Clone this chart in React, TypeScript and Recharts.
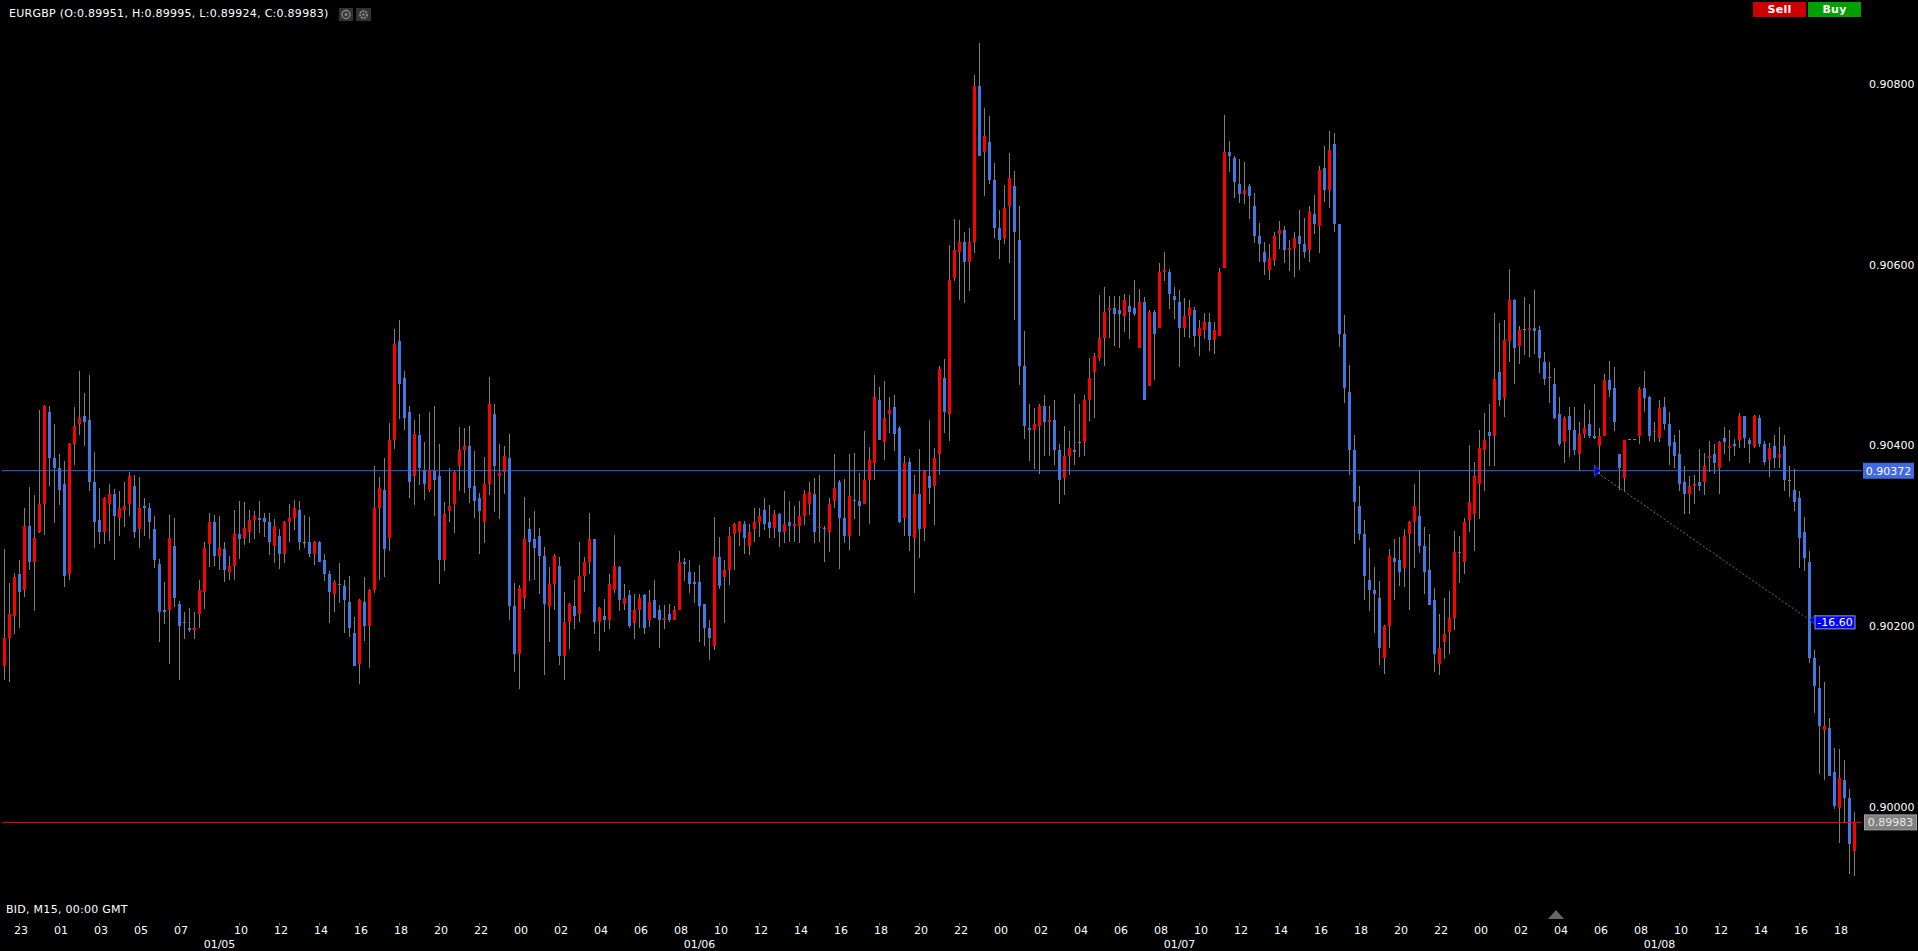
import { ComposedChart, Bar, XAxis, YAxis, ReferenceLine, ReferenceDot } from 'recharts'

// EURGBP M15 candles, prices in points (1/100000)
const opens = [
  90156,90187,90211,90258,90240,90311,90271,90304,90335,90437,90386,90375,90357,90258,90402,90424,90433,90428,90360,90318,
  90304,90335,90346,90320,90329,90335,90355,90307,90333,90331,90307,90269,90218,90218,90289,90225,90205,90198,90196,90214,
  90238,90291,90315,90278,90285,90260,90267,90302,90298,90304,90318,90320,90320,90315,90289,90300,90280,90315,90320,90329,
  90293,90293,90280,90293,90273,90258,90236,90247,90245,90227,90192,90158,90227,90200,90240,90331,90351,90298,90406,90515,
  90475,90437,90366,90411,90373,90351,90372,90366,90273,90327,90335,90377,90395,90399,90355,90342,90315,90357,90435,90366,
  90371,90386,90222,90169,90231,90307,90296,90300,90278,90222,90247,90267,90167,90205,90222,90214,90256,90271,90296,90205,
  90211,90207,90240,90265,90225,90234,90203,90218,90234,90207,90229,90218,90207,90214,90207,90218,90271,90260,90249,90249,
  90225,90198,90178,90276,90254,90262,90302,90304,90313,90289,90307,90315,90329,90315,90309,90324,90304,90315,90311,90311,
  90322,90335,90346,90309,90309,90304,90338,90360,90320,90300,90340,90338,90335,90362,90380,90450,90404,90435,90442,90419,
  90320,90382,90298,90346,90309,90366,90355,90391,90475,90435,90585,90614,90625,90603,90625,90798,90725,90736,90694,90640,
  90629,90665,90687,90627,90488,90419,90417,90421,90444,90426,90428,90395,90364,90388,90395,90404,90404,90450,90481,90497,
  90519,90550,90552,90550,90543,90554,90552,90508,90559,90466,90548,90530,90592,90592,90565,90559,90530,90543,90550,90521,
  90528,90536,90517,90521,90596,90725,90718,90689,90678,90687,90665,90632,90614,90594,90605,90634,90638,90616,90618,90632,
  90623,90616,90656,90643,90707,90683,90733,90645,90523,90459,90395,90333,90302,90251,90240,90231,90165,90200,90275,90273,
  90264,90302,90315,90322,90289,90262,90229,90158,90183,90194,90209,90282,90271,90317,90324,90357,90395,90415,90410,90481,
  90452,90515,90561,90510,90529,90528,90530,90528,90492,90476,90468,90435,90404,90432,90417,90390,90413,90424,90410,90399,
  90410,90472,90463,90390,90364,90407,90407,90410,90463,90454,90415,90408,90443,90424,90404,90390,90360,90346,90355,90360,
  90360,90386,90390,90375,90408,90397,90402,90406,90432,90406,90399,90430,90402,90384,90399,90386,90399,90362,90351,90342,
  90304,90271,90165,90132,90085,90087,90039,89999,90030,90010,89951,
]
const highs = [
  90285,90248,90259,90273,90331,90354,90345,90439,90445,90444,90424,90390,90383,90403,90442,90482,90458,90478,90393,90353,
  90343,90357,90352,90350,90359,90371,90367,90365,90342,90336,90322,90274,90249,90323,90320,90228,90216,90220,90216,90251,
  90293,90325,90323,90322,90293,90278,90328,90339,90337,90329,90327,90339,90325,90325,90319,90308,90316,90335,90340,90339,
  90323,90321,90294,90294,90280,90261,90251,90270,90251,90256,90210,90230,90254,90241,90377,90365,90386,90425,90529,90539,
  90482,90444,90428,90435,90404,90437,90444,90401,90337,90375,90372,90420,90419,90422,90394,90347,90387,90476,90446,90402,
  90399,90413,90248,90246,90343,90320,90327,90309,90288,90266,90280,90276,90238,90226,90251,90293,90276,90325,90297,90221,
  90230,90258,90301,90267,90247,90240,90236,90236,90236,90240,90251,90224,90224,90225,90222,90283,90275,90273,90260,90268,
  90225,90207,90321,90299,90273,90310,90314,90316,90316,90313,90331,90331,90342,90334,90328,90325,90350,90338,90333,90339,
  90351,90360,90364,90367,90311,90342,90391,90362,90363,90391,90392,90369,90416,90398,90478,90465,90471,90454,90456,90422,
  90388,90386,90367,90396,90373,90428,90397,90488,90496,90622,90650,90649,90636,90640,90810,90845,90773,90764,90712,90660,
  90688,90723,90704,90665,90527,90446,90441,90446,90456,90444,90450,90401,90421,90416,90457,90446,90456,90497,90502,90566,
  90575,90565,90565,90565,90567,90566,90583,90573,90564,90550,90550,90602,90614,90595,90575,90572,90563,90561,90553,90539,
  90546,90546,90536,90596,90765,90737,90720,90717,90713,90689,90679,90646,90625,90623,90636,90648,90643,90627,90636,90660,
  90651,90665,90677,90709,90731,90748,90746,90645,90544,90489,90411,90355,90318,90286,90266,90250,90201,90285,90297,90299,
  90308,90316,90357,90372,90310,90302,90242,90214,90231,90239,90305,90300,90320,90400,90382,90417,90436,90446,90546,90535,
  90539,90595,90562,90532,90564,90556,90572,90532,90503,90492,90486,90453,90432,90443,90443,90426,90446,90439,90468,90419,
  90479,90493,90487,90391,90406,90407,90407,90465,90482,90455,90426,90450,90453,90437,90411,90417,90377,90366,90367,90396,
  90392,90405,90402,90405,90420,90417,90407,90436,90433,90408,90434,90434,90405,90403,90411,90420,90412,90377,90374,90350,
  90321,90283,90174,90156,90138,90098,90065,90064,90052,90020,89995,
]
const lows = [
  90140,90138,90192,90198,90233,90262,90217,90303,90301,90356,90315,90334,90244,90251,90378,90411,90399,90350,90287,90291,
  90291,90294,90273,90300,90309,90322,90297,90286,90300,90296,90264,90182,90203,90158,90222,90141,90186,90193,90186,90198,
  90219,90265,90267,90262,90249,90252,90251,90275,90289,90293,90296,90304,90298,90279,90270,90264,90270,90293,90307,90285,
  90286,90277,90267,90271,90250,90203,90216,90226,90192,90188,90156,90136,90183,90154,90236,90251,90254,90283,90396,90429,
  90417,90342,90334,90356,90340,90349,90322,90246,90261,90315,90303,90349,90347,90337,90320,90280,90292,90346,90327,90319,
  90346,90207,90150,90131,90219,90250,90251,90236,90146,90183,90218,90156,90141,90175,90197,90205,90237,90257,90192,90172,
  90194,90197,90237,90217,90218,90198,90186,90198,90192,90199,90209,90176,90198,90205,90207,90218,90250,90236,90226,90183,
  90179,90163,90174,90241,90203,90246,90262,90288,90279,90279,90293,90299,90307,90298,90297,90287,90293,90293,90293,90293,
  90312,90323,90292,90293,90271,90282,90331,90264,90292,90285,90319,90299,90335,90313,90362,90406,90384,90414,90394,90315,
  90299,90283,90236,90275,90294,90335,90312,90367,90414,90405,90581,90561,90558,90570,90613,90720,90676,90689,90629,90606,
  90623,90601,90539,90467,90407,90383,90373,90369,90388,90389,90378,90335,90345,90367,90379,90387,90388,90427,90430,90493,
  90488,90518,90510,90508,90525,90517,90543,90508,90450,90466,90473,90530,90582,90551,90540,90487,90520,90519,90509,90499,
  90517,90504,90501,90521,90596,90703,90673,90668,90667,90650,90624,90603,90588,90583,90598,90617,90602,90593,90586,90594,
  90607,90603,90634,90613,90669,90663,90636,90509,90447,90367,90290,90295,90230,90216,90193,90157,90147,90175,90229,90245,
  90244,90218,90264,90281,90236,90223,90149,90146,90163,90169,90195,90248,90258,90304,90284,90319,90350,90377,90377,90443,
  90432,90492,90468,90490,90500,90497,90501,90480,90467,90447,90430,90399,90380,90388,90390,90372,90408,90408,90407,90368,
  90410,90453,90416,90351,90350,90406,90406,90402,90437,90405,90404,90404,90416,90378,90375,90350,90324,90324,90335,90349,
  90345,90371,90369,90346,90390,90383,90388,90397,90398,90380,90398,90399,90378,90365,90375,90375,90350,90343,90327,90265,
  90261,90159,90104,90037,90030,90034,89997,89960,89982,89926,89924,
]
const closes = [
  90187,90214,90254,90238,90311,90271,90298,90335,90444,90386,90375,90351,90256,90402,90422,90430,90426,90360,90315,90304,
  90342,90346,90322,90331,90333,90366,90304,90331,90331,90315,90273,90216,90216,90298,90231,90200,90204,90196,90198,90240,
  90287,90315,90278,90287,90262,90267,90302,90296,90309,90318,90322,90318,90315,90293,90311,90280,90315,90320,90331,90293,
  90293,90280,90293,90271,90258,90238,90249,90246,90229,90198,90156,90229,90200,90240,90331,90353,90285,90406,90512,90468,
  90430,90360,90413,90375,90357,90372,90362,90273,90324,90333,90371,90395,90399,90353,90338,90327,90357,90446,90377,90369,
  90388,90222,90169,90242,90296,90293,90287,90278,90225,90247,90278,90167,90205,90225,90211,90256,90271,90296,90205,90220,
  90207,90247,90267,90229,90231,90200,90218,90231,90198,90227,90209,90207,90209,90207,90218,90271,90269,90247,90247,90222,
  90198,90187,90276,90245,90262,90300,90313,90315,90298,90304,90315,90322,90313,90309,90324,90304,90313,90311,90313,90322,
  90346,90349,90304,90310,90307,90335,90353,90320,90300,90344,90338,90333,90362,90384,90453,90406,90430,90439,90413,90315,
  90380,90300,90346,90307,90372,90353,90386,90484,90437,90583,90616,90625,90603,90625,90798,90720,90742,90694,90640,90627,
  90663,90696,90636,90488,90421,90417,90424,90444,90426,90428,90395,90362,90388,90397,90393,90404,90450,90475,90499,90519,
  90548,90552,90545,90545,90561,90548,90545,90559,90450,90548,90523,90592,90594,90567,90561,90530,90543,90552,90521,90530,
  90536,90517,90528,90592,90725,90720,90691,90678,90683,90676,90632,90623,90603,90607,90632,90638,90616,90618,90629,90623,
  90614,90658,90645,90705,90683,90727,90645,90523,90463,90395,90337,90302,90255,90240,90236,90176,90200,90278,90271,90260,
  90300,90315,90333,90289,90260,90223,90169,90176,90191,90209,90282,90281,90315,90337,90366,90397,90406,90410,90474,90450,
  90517,90561,90508,90528,90529,90530,90526,90497,90474,90476,90430,90402,90430,90417,90395,90413,90419,90410,90408,90410,
  90472,90461,90426,90375,90406,90407,90407,90462,90452,90410,90416,90441,90424,90399,90388,90357,90346,90355,90357,90355,
  90377,90388,90380,90404,90404,90399,90399,90432,90408,90402,90432,90402,90382,90397,90386,90390,90362,90362,90337,90298,
  90275,90165,90134,90090,90090,90034,90001,90032,90010,89959,89983,
]

const hourTickSlots = [
  3,11,19,27,35,47,55,63,71,79,87,95,103,111,119,127,135,143,151,159,167,175,183,191,
  199,207,215,223,231,239,247,255,263,271,279,287,295,303,311,319,327,335,343,351,359,367,
]
const hourTickLabels = [
  '23','01','03','05','07','10','12','14','16','18','20','22',
  '00','02','04','06','08','10','12','14','16','18','20','22',
  '00','02','04','06','08','10','12','14','16','18','20','22',
  '00','02','04','06','08','10','12','14','16','18',
]
const dateTickSlots = [43, 139, 235, 331]
const dateTickLabels = ['01/05', '01/06', '01/07', '01/08']
const priceTicks = [0.9, 0.902, 0.904, 0.906, 0.908]

const ENTRY_PRICE = 0.90372
const LAST_PRICE = 0.89983
const TRADE_START_SLOT = 318
const TRADE_END_SLOT = 361
const TRADE_END_PRICE = 0.90207
const TRADE_PIPS = '-16.60'

const SLOT_COUNT = 372
const slots = Array.from({ length: SLOT_COUNT }, (_, i) =>
  i < opens.length
    ? {
        slot: i,
        open: opens[i] / 1e5,
        close: closes[i] / 1e5,
        range: [lows[i] / 1e5, highs[i] / 1e5],
      }
    : { slot: i },
)

const FONT = '"DejaVu Sans", sans-serif'
const TEXT = '#ffffff'
const UP = '#ff0000'
const DOWN = '#4079e6'
const WICK = '#7f7f7f'

function Candle(props: any) {
  const { x, y, width, height, payload } = props
  if (payload.open === undefined) return null
  const [low, high] = payload.range
  const perPrice = high > low ? height / (high - low) : 0
  const top = Math.round(y + (high - Math.max(payload.open, payload.close)) * perPrice)
  const bottom = Math.round(y + (high - Math.min(payload.open, payload.close)) * perPrice)
  const fill = payload.open === payload.close ? WICK : payload.close > payload.open ? UP : DOWN
  const mid = Math.floor(x + width / 2)
  return (
    <g shapeRendering="crispEdges">
      <rect x={mid} y={Math.round(y)} width={1} height={Math.max(1, Math.round(height))} fill={WICK} />
      <rect x={mid - 1} y={top} width={3} height={Math.max(1, bottom - top)} fill={fill} />
    </g>
  )
}

function HourTick({ x, y, payload }: any) {
  const label = hourTickLabels[hourTickSlots.indexOf(payload.value)]
  return (
    <g>
      <rect x={x - 0.5} y={y - 0.5} width={1} height={2} fill="#777" shapeRendering="crispEdges" />
      <text x={x + 1.5} y={y + 10.5} textAnchor="middle" fontFamily={FONT} fontSize={11} fill={TEXT}>
        {label}
      </text>
    </g>
  )
}

function DateTick({ x, y, payload }: any) {
  return (
    <text x={x} y={y + 8.5} textAnchor="middle" fontFamily={FONT} fontSize={11} fill={TEXT}>
      {dateTickLabels[dateTickSlots.indexOf(payload.value)]}
    </text>
  )
}

function PriceTag({ viewBox, text, fill, stroke, color, dx, w, up }: any) {
  const yMid = viewBox.y
  const right = viewBox.x + viewBox.width
  return (
    <g>
      <rect x={right + dx} y={yMid - up} width={w} height={up === 7.5 ? 15 : 16} fill={fill} stroke={stroke} />
      <text x={right + dx + w / 2} y={yMid + 4} textAnchor="middle" fontFamily={FONT} fontSize={11} fill={color}>
        {text}
      </text>
    </g>
  )
}

function EntryMarker({ cx, cy }: any) {
  return <path d={`M${cx},${cy - 5.5} L${cx + 6},${cy} L${cx},${cy + 5.5} Z`} fill="#0000e0" stroke="#3a3ab0" />
}

function ExitMarker({ cx, cy }: any) {
  return (
    <g>
      <path d={`M${cx + 6},${cy - 5} L${cx},${cy} L${cx + 6},${cy + 5} Z`} fill="#0000c8" stroke="#3a3ab0" />
      <rect x={cx + 5.5} y={cy - 4} width={40} height={13} fill="#0000ff" stroke="#9a9ac8" />
      <text x={cx + 25.5} y={cy + 6.5} textAnchor="middle" fontFamily={FONT} fontSize={11} fill="#fff">
        {TRADE_PIPS}
      </text>
    </g>
  )
}

const overlayText = {
  position: 'absolute' as const,
  fontFamily: FONT,
  fontSize: 11,
  letterSpacing: 0.27,
  color: TEXT,
  whiteSpace: 'nowrap' as const,
  lineHeight: '14px',
}

export default function App() {
  return (
    <div style={{ position: 'absolute', left: 0, top: 0, width: 1918, height: 951, background: '#000', overflow: 'hidden' }}>
      <ComposedChart
        width={1918}
        height={951}
        data={slots}
        barCategoryGap={0}
        margin={{ top: 29.56, right: 0, bottom: 0, left: 2 }}
      >
        <XAxis
          dataKey="slot"
          type="category"
          ticks={hourTickSlots}
          interval={0}
          height={16}
          axisLine={false}
          tickLine={false}
          tick={<HourTick />}
        />
        <XAxis
          xAxisId="dates"
          dataKey="slot"
          type="category"
          ticks={dateTickSlots}
          interval={0}
          height={19.52}
          axisLine={false}
          tickLine={false}
          tick={<DateTick />}
        />
        <YAxis
          orientation="right"
          width={56}
          domain={[0.8988, 0.9086]}
          allowDataOverflow
          ticks={priceTicks}
          interval={0}
          axisLine={false}
          tickLine={false}
          tickSize={0}
          tickMargin={7}
          tickFormatter={(v: number) => v.toFixed(5)}
          tick={{ fill: TEXT, fontFamily: FONT, fontSize: 11 }}
        />
        <Bar dataKey="range" shape={<Candle />} isAnimationActive={false} />
        <ReferenceLine
          y={ENTRY_PRICE}
          stroke="#3a66e8"
          strokeWidth={1}
          label={<PriceTag text={ENTRY_PRICE.toFixed(5)} fill="#4169e1" stroke="#4169e1" color="#fff" dx={1.5} w={50} up={7.5} />}
        />
        <ReferenceLine
          y={LAST_PRICE}
          stroke="#ff0000"
          strokeWidth={1}
          label={<PriceTag text={LAST_PRICE.toFixed(5)} fill="#808080" stroke="#a0a0a0" color="#e8e8e8" dx={2.5} w={52} up={7.5} />}
        />
        <ReferenceLine
          segment={[
            { x: TRADE_START_SLOT, y: ENTRY_PRICE },
            { x: TRADE_END_SLOT, y: TRADE_END_PRICE },
          ]}
          stroke="#707070"
          strokeDasharray="2 2"
        />
        <ReferenceDot x={TRADE_START_SLOT} y={ENTRY_PRICE} shape={<EntryMarker />} />
        <ReferenceDot x={TRADE_END_SLOT} y={TRADE_END_PRICE} shape={<ExitMarker />} />
      </ComposedChart>

      <div style={{ ...overlayText, left: 9, top: 7 }}>EURGBP (O:0.89951, H:0.89995, L:0.89924, C:0.89983)</div>
      <div style={{ ...overlayText, left: 6, top: 903 }}>BID, M15, 00:00 GMT</div>

      <svg style={{ position: 'absolute', left: 339, top: 8 }} width={32} height={14}>
        <rect x={0} y={0} width={14} height={13} fill="#333" />
        <rect x={17} y={0} width={15} height={13} fill="#333" />
        <circle cx={7} cy={6.5} r={4} fill="none" stroke="#888" strokeWidth={1.3} />
        <circle cx={7} cy={6.5} r={1.5} fill="#888" />
        <circle cx={24.5} cy={6.5} r={3.5} fill="none" stroke="#888" strokeWidth={2} strokeDasharray="2 1" />
        <circle cx={24.5} cy={6.5} r={1.2} fill="#888" />
      </svg>

      <div style={{ ...overlayText, left: 1753, top: 2, width: 53, height: 15, lineHeight: '15px', background: '#cc0000', color: '#fff', fontWeight: 'bold', textAlign: 'center' }}>Sell</div>
      <div style={{ ...overlayText, left: 1808, top: 2, width: 53, height: 15, lineHeight: '15px', background: '#00a000', color: '#fff', fontWeight: 'bold', textAlign: 'center' }}>Buy</div>

      <svg style={{ position: 'absolute', left: 1548, top: 910 }} width={16} height={9}>
        <path d="M0,9 L8,0 L16,9 Z" fill="#666" />
      </svg>
    </div>
  )
}
